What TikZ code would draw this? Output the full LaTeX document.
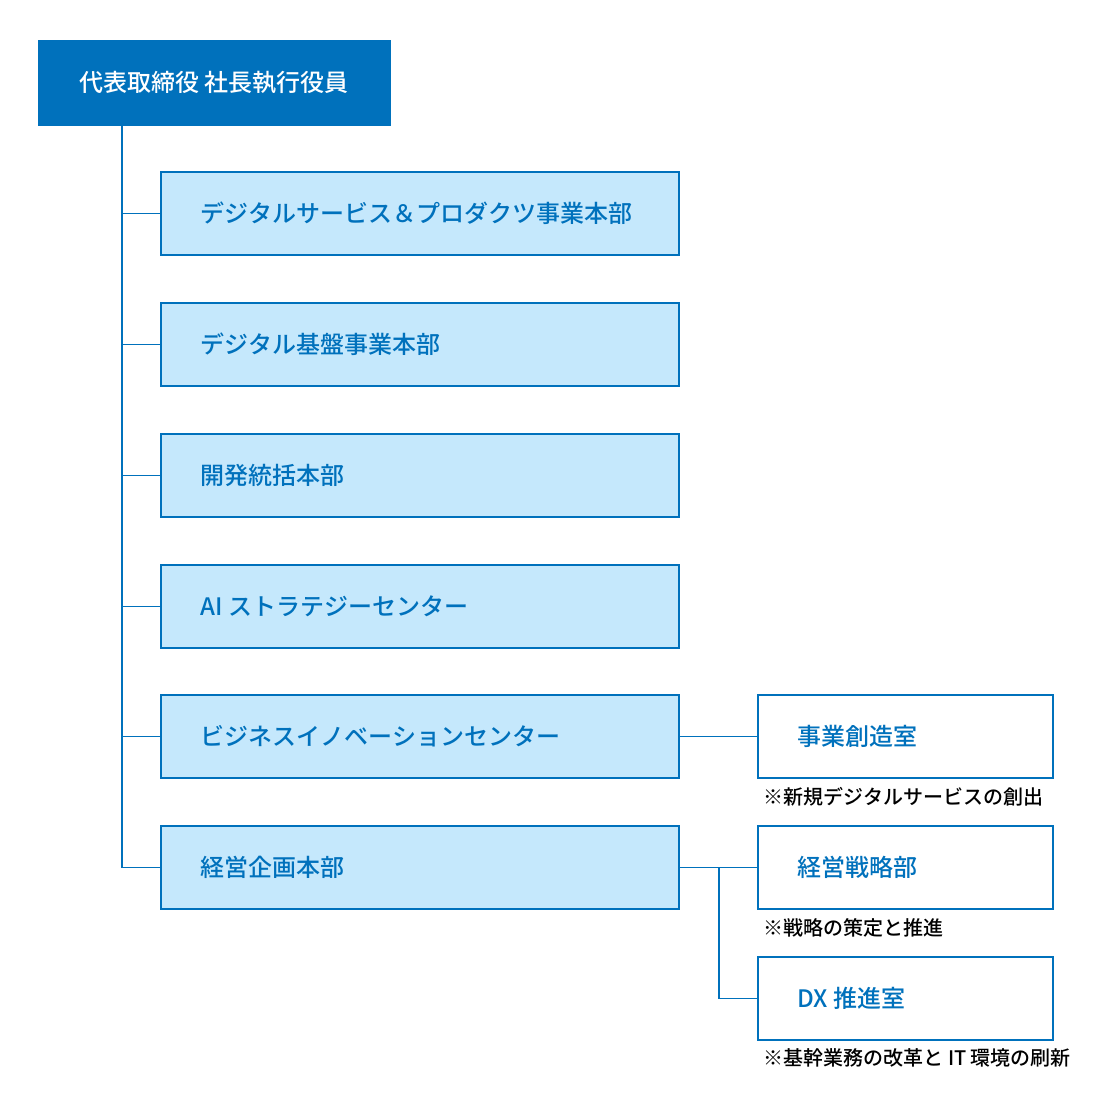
\documentclass[tikz,border=0pt]{standalone}
\usepackage{fontspec}
\setmainfont{Noto Sans CJK JP Medium}
\definecolor{mainblue}{HTML}{0071BC}
\definecolor{lightblue}{HTML}{C5E8FC}
\begin{document}
\begin{tikzpicture}[x=1pt,y=-1pt,
  top/.style={draw=mainblue,fill=mainblue,line width=1.5pt,minimum width=351pt,minimum height=84pt,inner sep=0pt},
  dept/.style={draw=mainblue,fill=lightblue,line width=1.5pt,minimum width=518pt,minimum height=83pt,inner sep=0pt},
  sub/.style={draw=mainblue,fill=white,line width=1.5pt,minimum width=295pt,minimum height=83pt,inner sep=0pt},
  lab/.style={anchor=west,text=mainblue,font=\fontsize{24}{28}\selectfont},
  note/.style={anchor=west,font=\fontsize{20}{24}\selectfont},
  conn/.style={draw=mainblue,line width=1.5pt}]
\useasboundingbox (0,0) rectangle (1094,1112);
\node[top] (ceo) at (214.5,83) {};
\node[anchor=west,text=white,font=\fontsize{24}{28}\selectfont] (ceot) at (76,83) {代表取締役 社長執行役員};
\foreach \i/\y/\t in {1/213.5/デジタルサービス＆プロダクツ事業本部,2/344.5/デジタル基盤事業本部,3/475.5/開発統括本部,4/606.5/AI ストラテジーセンター,5/736.5/ビジネスイノベーションセンター,6/867.5/経営企画本部}{
  \node[dept] (d\i) at (420,\y) {};
  \node[lab] (t\i) at (197,\y) {\t};
}
\node[sub] (s1) at (905.5,736.5) {};
\node[lab] at (794,736.5) {事業創造室};
\node[sub] (s2) at (905.5,867.5) {};
\node[lab] at (794,867.5) {経営戦略部};
\node[sub] (s3) at (905.5,998.5) {};
\node[lab] at (794,998.5) {DX 推進室};
\node[note] (n1) at (760,797) {※新規デジタルサービスの創出};
\node[note] (n2) at (760,928) {※戦略の策定と推進};
\node[note] (n3) at (760,1058) {※基幹業務の改革と IT 環境の刷新};
\coordinate (trunk) at (122,0);
\draw[conn] (trunk |- ceo.south) -- (trunk |- d6.west) -- (d6.west);
\foreach \i in {1,...,5}{\draw[conn] (trunk |- d\i.west) -- (d\i.west);}
\draw[conn] (d5.east) -- (s1.west);
\draw[conn] (d6.east) -- (s2.west);
\coordinate (br) at (719,0);
\draw[conn] (br |- d6.east) -- (br |- s3.west) -- (s3.west);
\end{tikzpicture}
\end{document}
